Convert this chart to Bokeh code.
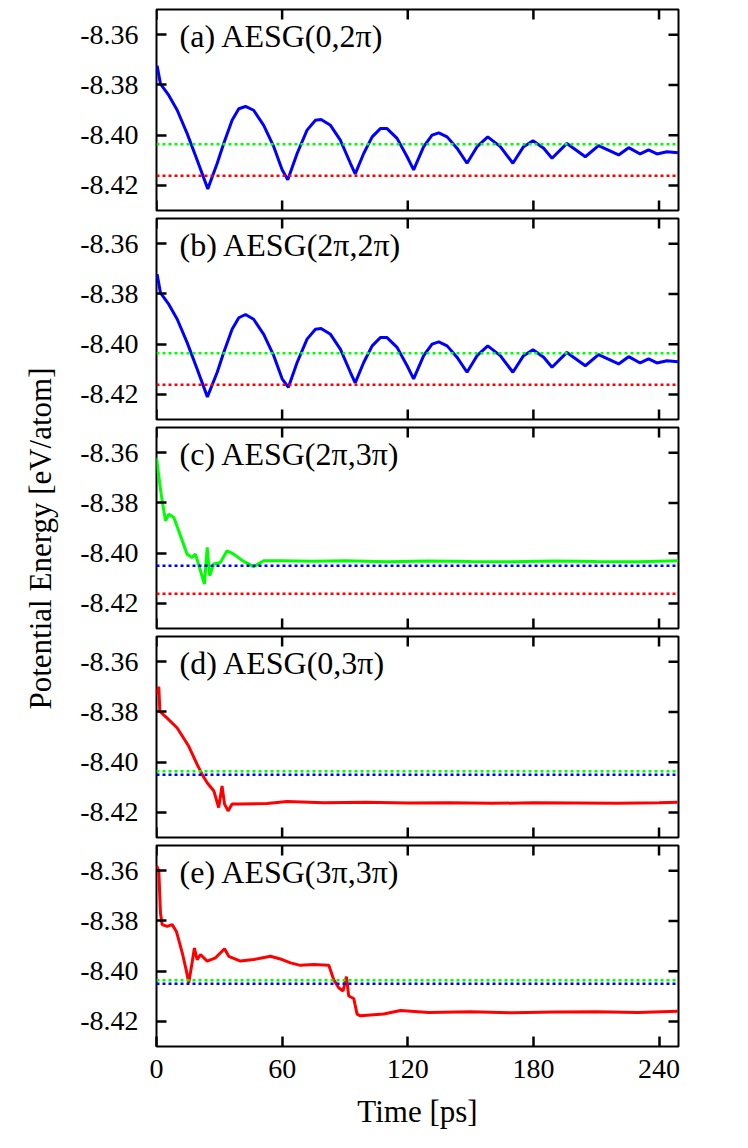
import math
from bokeh.plotting import figure
from bokeh.models import Range1d, FixedTicker, PrintfTickFormatter, Span, Label
from bokeh.layouts import row, column
from bokeh.embed import file_html
from bokeh.resources import INLINE

FONT = "Liberation Serif"

# ---------------- data ----------------
x_ticks = [0, 60, 120, 180, 240]
y_ticks = [-8.42, -8.40, -8.38, -8.36]
x_max = 249.3
y_min, y_max = -8.43, -8.35

panel_labels = ["(a) AESG(0,2π)", "(b) AESG(2π,2π)", "(c) AESG(2π,3π)",
                "(d) AESG(0,3π)", "(e) AESG(3π,3π)"]
y_title = "Potential Energy [eV/atom]"
x_title = "Time [ps]"

ref_green = -8.4036
ref_red = -8.4162
ref_blue = -8.4050

t_a = [0, 0.3, 1.9, 5.9, 9.9, 14.6, 19.4, 24.5, 29.0, 32.1, 36.1, 39.3, 42.5, 46.4, 51.2,
       56.0, 60.0, 62.7, 67.2, 71.9, 75.9, 78.6, 83.1, 87.8, 92.6, 94.9, 99.0, 103.0, 106.9,
       110.1, 114.9, 119.7, 122.8, 127.6, 131.6, 134.8, 138.8, 143.5, 148.3, 153.1, 158.2,
       164.2, 170.2, 175.3, 179.8, 184.9, 188.9, 196.0, 204.8, 211.1, 220.7, 225.5, 231.0,
       235.0, 239.0, 243.8, 249.0]
e_a = [-8.3740, -8.3724, -8.3796, -8.3842, -8.3901, -8.3993, -8.4099, -8.4214, -8.4112,
       -8.4033, -8.3941, -8.3895, -8.3886, -8.3901, -8.3961, -8.4046, -8.4138, -8.4178,
       -8.4072, -8.3980, -8.3941, -8.3938, -8.3961, -8.4020, -8.4112, -8.4154, -8.4072,
       -8.4007, -8.3974, -8.3974, -8.4013, -8.4086, -8.4138, -8.4046, -8.4000, -8.3991,
       -8.4007, -8.4052, -8.4112, -8.4046, -8.4007, -8.4046, -8.4112, -8.4046, -8.4022,
       -8.4052, -8.4092, -8.4033, -8.4086, -8.4042, -8.4079, -8.4050, -8.4075, -8.4059,
       -8.4075, -8.4066, -8.4070]

t_b = [0, 0.3, 1.9, 5.9, 9.9, 14.6, 19.4, 24.3, 29.0, 32.1, 36.1, 39.3, 42.5, 46.4, 51.2,
       56.0, 60.0, 63.0, 67.2, 71.9, 75.9, 78.6, 83.1, 87.8, 92.6, 94.9, 99.0, 103.0, 106.9,
       110.1, 114.9, 119.7, 122.8, 127.6, 131.6, 134.8, 138.8, 143.5, 148.3, 153.1, 158.2,
       164.2, 170.2, 175.3, 179.8, 184.9, 188.9, 196.0, 204.8, 211.1, 220.7, 225.5, 231.0,
       235.0, 239.0, 243.8, 249.0]
e_b = [-8.3740, -8.3722, -8.3796, -8.3842, -8.3901, -8.3993, -8.4099, -8.4210, -8.4112,
       -8.4033, -8.3941, -8.3895, -8.3882, -8.3901, -8.3961, -8.4046, -8.4138, -8.4172,
       -8.4072, -8.3980, -8.3941, -8.3938, -8.3961, -8.4020, -8.4112, -8.4154, -8.4072,
       -8.4007, -8.3974, -8.3974, -8.4013, -8.4086, -8.4138, -8.4046, -8.4000, -8.3991,
       -8.4007, -8.4052, -8.4112, -8.4046, -8.4007, -8.4046, -8.4112, -8.4046, -8.4022,
       -8.4052, -8.4092, -8.4033, -8.4086, -8.4042, -8.4079, -8.4050, -8.4075, -8.4059,
       -8.4075, -8.4066, -8.4070]

t_c = [0, 1.5, 2.7, 4.3, 5.9, 8.3, 10.6, 14.6, 17.0, 18.6, 21.0, 22.9, 24.2, 25.4, 27.3,
       30.5, 33.7, 36.9, 40.1, 42.5, 46.4, 51.2, 60, 75, 90, 110, 130, 150, 170, 190, 210,
       230, 249]
e_c = [-8.3620, -8.3720, -8.3792, -8.3871, -8.3845, -8.3858, -8.3911, -8.4004, -8.4017,
       -8.4004, -8.4070, -8.4123, -8.3977, -8.4090, -8.4043, -8.4037, -8.3991, -8.4004,
       -8.4024, -8.4037, -8.4054, -8.4030, -8.4030, -8.4032, -8.4030, -8.4034, -8.4031,
       -8.4033, -8.4034, -8.4031, -8.4033, -8.4034, -8.4030]

t_d = [0, 1.1, 1.6, 5.1, 9.9, 15.4, 19.4, 21.8, 24.2, 27.4, 29.7, 31.3, 32.5, 34.2, 36.1,
       40.1, 52.8, 62.4, 80, 100, 120, 140, 160, 180, 200, 220, 240, 249]
e_d = [-8.3730, -8.3700, -8.3798, -8.3825, -8.3864, -8.3937, -8.4009, -8.4049, -8.4082,
       -8.4115, -8.4181, -8.4095, -8.4167, -8.4194, -8.4167, -8.4167, -8.4165, -8.4157,
       -8.4162, -8.4160, -8.4163, -8.4162, -8.4164, -8.4162, -8.4163, -8.4164, -8.4162,
       -8.4160]

t_e = [0, 1.1, 1.9, 2.7, 5.1, 7.5, 9.5, 12.3, 14.3, 15.4, 17.0, 18.1, 19.4, 21.0, 24.2,
       28.2, 32.5, 34.5, 40.1, 46.4, 54.4, 60, 64, 68.7, 75.1, 82.3, 84.6, 87.0, 89.1, 90.7,
       91.8, 94.2, 95.8, 97.4, 108.5, 116.5, 130, 150, 170, 190, 210, 230, 249]
e_e = [-8.3580, -8.3600, -8.3769, -8.3815, -8.3822, -8.3815, -8.3842, -8.3927, -8.4000,
       -8.4046, -8.3967, -8.3908, -8.3954, -8.3934, -8.3960, -8.3947, -8.3911, -8.3941,
       -8.3960, -8.3954, -8.3941, -8.3954, -8.3967, -8.3977, -8.3974, -8.3977, -8.4033,
       -8.4066, -8.4079, -8.4022, -8.4099, -8.4109, -8.4171, -8.4178, -8.4171, -8.4157,
       -8.4165, -8.4162, -8.4166, -8.4163, -8.4162, -8.4165, -8.4160]

BLUE, GREEN, RED = "#0000ff", "#00ff00", "#ff0000"

panels = [
    (t_a, e_a, BLUE, [(ref_green, GREEN), (ref_red, RED)]),
    (t_b, e_b, BLUE, [(ref_green, GREEN), (ref_red, RED)]),
    (t_c, e_c, GREEN, [(ref_blue, BLUE), (ref_red, RED)]),
    (t_d, e_d, RED, [(ref_green, GREEN), (ref_blue, BLUE)]),
    (t_e, e_e, RED, [(ref_green, GREEN), (ref_blue, BLUE)]),
]

# ---------------- layout ----------------
TITLE_W = 70
FRAME_W, FRAME_H = 522, 201
BORDER_L = 86
TOP_FIRST, GAP_TOP, GAP_BOTTOM, BOTTOM_LAST = 9, 4, 4, 94
TICK_LEN = 10
TICK_W = 2.5
dx_tick = TICK_LEN * x_max / FRAME_W
dy_tick = TICK_LEN * (y_max - y_min) / FRAME_H


def style_axis(ax):
    ax.axis_line_color = None
    ax.major_tick_in = TICK_LEN
    ax.major_tick_out = 0
    ax.major_tick_line_width = TICK_W
    ax.major_tick_line_color = "black"
    ax.minor_tick_line_color = None
    ax.major_label_text_font = FONT
    ax.major_label_text_font_size = "28px"
    ax.major_label_text_color = "black"


figs = []
n = len(panels)
for i, (t, e, col, refs) in enumerate(panels):
    first, last = i == 0, i == n - 1
    p = figure(frame_width=FRAME_W, frame_height=FRAME_H,
               x_range=Range1d(0, x_max), y_range=Range1d(y_min, y_max),
               toolbar_location=None, output_backend="svg",
               x_axis_location="below" if last else None,
               y_axis_location="left",
               min_border_left=BORDER_L, min_border_right=4,
               min_border_top=TOP_FIRST if first else GAP_TOP,
               min_border_bottom=BOTTOM_LAST if last else GAP_BOTTOM)
    p.grid.visible = False
    p.outline_line_color = "black"
    p.outline_line_width = 2
    p.background_fill_color = "white"
    p.border_fill_color = "white"

    for lvl, rc in refs:
        p.add_layout(Span(location=lvl, dimension="width", line_color=rc,
                          line_dash="3 3", line_width=2.5))
    p.line(t, e, line_color=col, line_width=3.0)

    for ax in p.yaxis:
        style_axis(ax)
        ax.ticker = FixedTicker(ticks=y_ticks)
        ax.formatter = PrintfTickFormatter(format="%.2f")
        ax.major_label_standoff = 18
    if last:
        for ax in p.xaxis:
            style_axis(ax)
            ax.ticker = FixedTicker(ticks=x_ticks)
            ax.major_label_standoff = 13
            ax.axis_label = x_title
            ax.axis_label_text_font = FONT
            ax.axis_label_text_font_size = "31px"
            ax.axis_label_text_font_style = "normal"
            ax.axis_label_text_color = "black"
            ax.axis_label_standoff = 13
    else:
        # inward ticks on the bottom edge (no labels)
        p.segment(x0=x_ticks, y0=[y_min] * len(x_ticks), x1=x_ticks,
                  y1=[y_min + dy_tick] * len(x_ticks), line_color="black", line_width=TICK_W)
    # mirrored inward ticks on top and right edges
    p.segment(x0=x_ticks, y0=[y_max] * len(x_ticks), x1=x_ticks,
              y1=[y_max - dy_tick] * len(x_ticks), line_color="black", line_width=TICK_W)
    p.segment(x0=[x_max] * len(y_ticks), y0=y_ticks, x1=[x_max - dx_tick] * len(y_ticks),
              y1=y_ticks, line_color="black", line_width=TICK_W)

    p.add_layout(Label(x=11, y=-8.3605, text=panel_labels[i], text_font=FONT,
                       text_font_size="32px", text_baseline="middle",
                       text_align="left", text_color="black"))
    figs.append(p)

heights = ([TOP_FIRST + FRAME_H + GAP_BOTTOM] + [GAP_TOP + FRAME_H + GAP_BOTTOM] * (n - 2)
           + [GAP_TOP + FRAME_H + BOTTOM_LAST])
H_total = sum(heights)

TITLE_CENTER_Y = 538
TITLE_FRAME_LEFT = 57
tf = figure(frame_width=TITLE_W - TITLE_FRAME_LEFT, frame_height=2 * TITLE_CENTER_Y,
            x_range=Range1d(0, 1), y_range=Range1d(0, 1),
            toolbar_location=None, output_backend="svg",
            x_axis_location=None, y_axis_location="left",
            min_border_left=TITLE_FRAME_LEFT, min_border_right=0, min_border_top=0,
            min_border_bottom=H_total - 2 * TITLE_CENTER_Y)
tf.grid.visible = False
tf.outline_line_color = None
tf.background_fill_color = "white"
tf.border_fill_color = "white"
for ax in tf.yaxis:
    ax.ticker = FixedTicker(ticks=[])
    ax.axis_line_color = None
    ax.major_tick_line_color = None
    ax.minor_tick_line_color = None
    ax.major_tick_out = 0
    ax.major_tick_in = 0
    ax.major_label_standoff = 0
    ax.axis_label = y_title
    ax.axis_label_standoff = 0
    ax.axis_label_text_font = FONT
    ax.axis_label_text_font_size = "31px"
    ax.axis_label_text_font_style = "normal"
    ax.axis_label_text_color = "black"

layout = row(tf, column(*figs))

with open("out.html", "w") as f:
    f.write(file_html(layout, INLINE))
